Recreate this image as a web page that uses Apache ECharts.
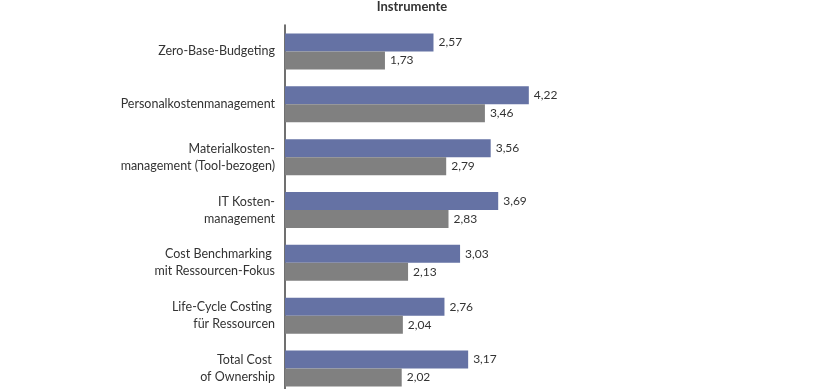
<!DOCTYPE html>
<html><head><meta charset="utf-8">
<script src="https://cdn.jsdelivr.net/npm/echarts@6/dist/echarts.min.js"></script>
<style>html,body{margin:0;padding:0;background:#fff}#c{width:820px;height:389px}</style>
</head><body><div id="c"></div>
<script>
const categories = [
  "Zero-Base-Budgeting",
  "Personalkostenmanagement",
  "Materialkosten-\nmanagement (Tool-bezogen)",
  "IT Kosten-\nmanagement",
  "Cost Benchmarking \nmit Ressourcen-Fokus",
  "Life-Cycle Costing \nfür Ressourcen",
  "Total Cost \nof Ownership"
];
const seriesA = [2.57, 4.22, 3.56, 3.69, 3.03, 2.76, 3.17];
const seriesB = [1.73, 3.46, 2.79, 2.83, 2.13, 2.04, 2.02];
const titleText = "Instrumente";

const fmt = p => p.value.toFixed(2).replace('.', ',');
const font = 'Lato';
const chart = echarts.init(document.getElementById('c'), null, {renderer: 'canvas'});
chart.setOption({
  animation: false,
  backgroundColor: '#fff',
  title: {
    text: titleText, left: 407, top: -5, textAlign: 'center',
    textStyle: {fontFamily: font, fontSize: 13, fontWeight: 'bold', color: '#333'}
  },
  grid: {left: 285, top: 25, width: 520, height: 370, outerBoundsMode: 'none', containLabel: false},
  xAxis: {type: 'value', min: 0, max: 9, show: false},
  yAxis: {
    type: 'category', data: categories, inverse: true,
    axisLine: {show: true, lineStyle: {color: '#404040', width: 1.5}},
    axisTick: {show: false},
    axisLabel: {fontFamily: font, fontSize: 12.5, color: '#333', margin: 10, lineHeight: 17, align: 'right'}
  },
  series: [
    {type: 'bar', data: seriesA, barWidth: 18, barGap: '0%',
     itemStyle: {color: '#6572A4'},
     label: {show: true, position: 'right', distance: 5, formatter: fmt,
             fontFamily: font, fontSize: 12, color: '#333'}},
    {type: 'bar', data: seriesB, barWidth: 18, barGap: '0%',
     itemStyle: {color: '#808080'},
     label: {show: true, position: 'right', distance: 5, formatter: fmt,
             fontFamily: font, fontSize: 12, color: '#333'}}
  ]
});
</script></body></html>
